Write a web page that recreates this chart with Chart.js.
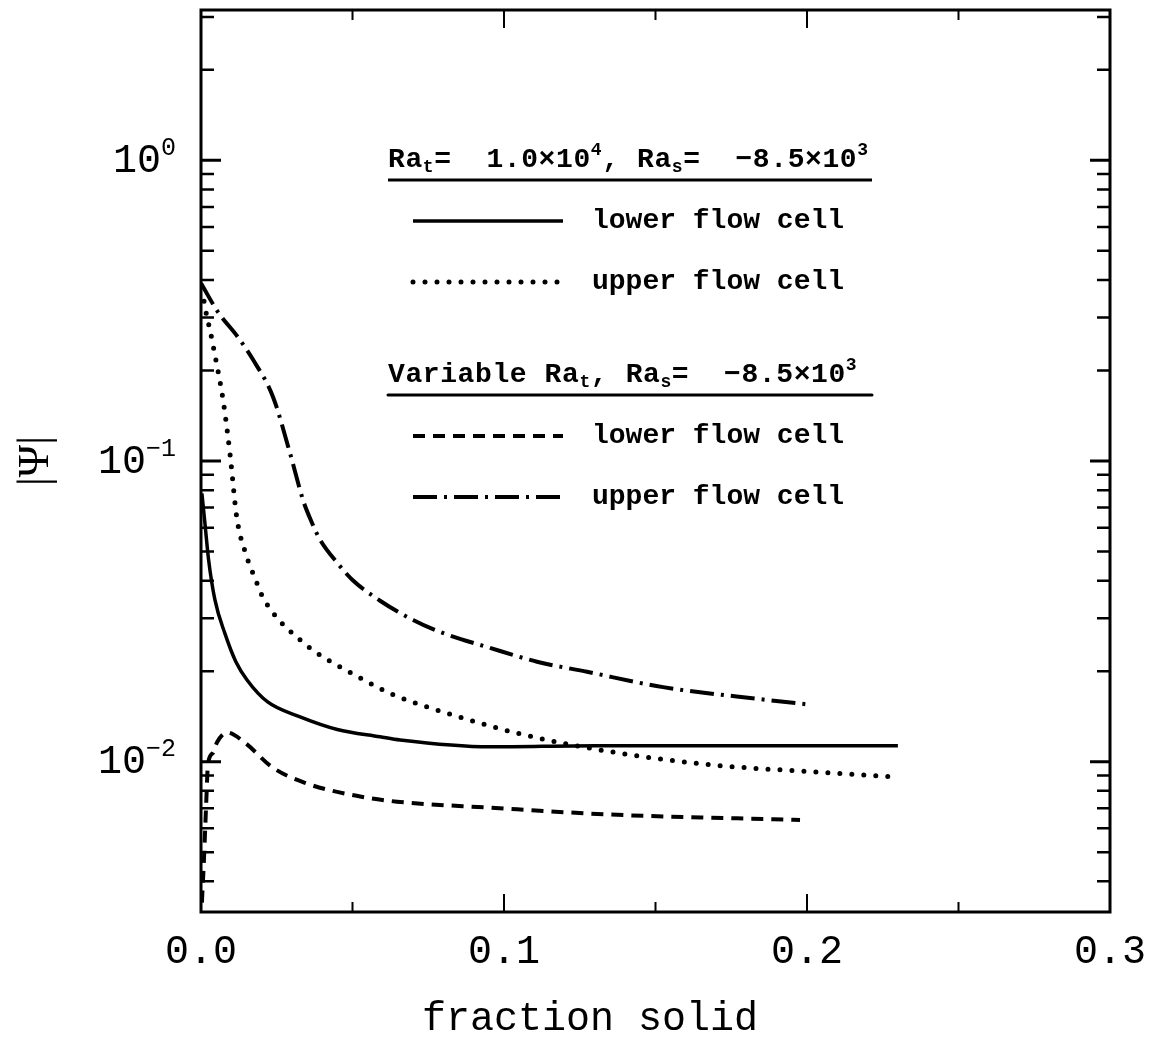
<!DOCTYPE html>
<html>
<head>
<meta charset="utf-8">
<script src="https://cdn.jsdelivr.net/npm/chart.js@4.4.1/dist/chart.umd.min.js"></script>
<style>
  html, body { margin: 0; padding: 0; background: #fff; }
</style>
</head>
<body>
<canvas id="psiChart" width="1149" height="1046"></canvas>
<script>
// Ra_t = 1.0e4, Ra_s = -8.5e3 : lower flow cell
const lowerFixedX = [0.0003, 0.0013, 0.0025, 0.0046, 0.008, 0.0115, 0.0152, 0.022, 0.0327, 0.045, 0.0591, 0.0657, 0.0954, 0.13, 0.17, 0.2, 0.23];
const lowerFixedY = [0.078, 0.062, 0.047, 0.0345, 0.0265, 0.0215, 0.0187, 0.0158, 0.0141, 0.0128, 0.0121, 0.0118, 0.0112, 0.0113, 0.0113, 0.0113, 0.0113];

// Ra_t = 1.0e4, Ra_s = -8.5e3 : upper flow cell
const upperFixedX = [0.001, 0.002, 0.003, 0.0046, 0.0063, 0.0076, 0.0096, 0.0118, 0.0149, 0.0178, 0.0205, 0.0327, 0.0525, 0.0634, 0.0832, 0.1063, 0.135, 0.168, 0.2066, 0.228];
const upperFixedY = [0.34, 0.3, 0.272, 0.225, 0.183, 0.152, 0.105, 0.065, 0.0487, 0.0408, 0.0351, 0.0254, 0.019, 0.0167, 0.0143, 0.0123, 0.0108, 0.00977, 0.00919, 0.0089];

// variable Ra_t, Ra_s = -8.5e3 : lower flow cell
const lowerVarX = [0.0003, 0.001, 0.0017, 0.0023, 0.004, 0.0053, 0.0086, 0.0145, 0.0234, 0.0343, 0.0525, 0.0647, 0.0954, 0.135, 0.1977];
const lowerVarY = [0.0034, 0.0048, 0.0072, 0.0098, 0.0107, 0.0116, 0.0125, 0.01156, 0.0096, 0.0085, 0.00766, 0.00736, 0.00703, 0.00667, 0.0064];

// variable Ra_t, Ra_s = -8.5e3 : upper flow cell
const upperVarX = [0, 0.0056, 0.0122, 0.0172, 0.0238, 0.0294, 0.0337, 0.0365, 0.0393, 0.045, 0.05, 0.0591, 0.07, 0.0789, 0.0954, 0.1109, 0.1274, 0.1525, 0.1855, 0.2003];
const upperVarY = [0.39, 0.313, 0.258, 0.217, 0.163, 0.106, 0.074, 0.0627, 0.0547, 0.0458, 0.0402, 0.0343, 0.0296, 0.027, 0.0239, 0.0215, 0.0199, 0.0177, 0.0161, 0.0155];

const xMin = 0, xMax = 0.3, xStep = 0.05;
const yMin = Math.pow(10, -2.5), yMax = Math.pow(10, 0.5);
const yLabelValues = [1, 0.1, 0.01];
const yLabelExps = ['0', '\u22121', '\u22122'];

const headerFixed = [{t: 'Ra'}, {t: 't', sub: true}, {t: '=  1.0\u00d710'}, {t: '4', sup: true},
                     {t: ', Ra'}, {t: 's', sub: true}, {t: '=  \u22128.5\u00d710'}, {t: '3', sup: true}];
const headerVar = [{t: 'Variable Ra'}, {t: 't', sub: true}, {t: ', Ra'}, {t: 's', sub: true},
                   {t: '=  \u22128.5\u00d710'}, {t: '3', sup: true}];
const xTitle = 'fraction solid';

const MONO = '"Liberation Mono", "DejaVu Sans Mono", monospace';

function pairs(xs, ys) {
    return xs.map((x, i) => ({x: x, y: ys[i]}));
}

function lineSet(label, xs, ys, width, dash, cap) {
    return {
        label: label,
        data: pairs(xs, ys),
        borderColor: '#000',
        backgroundColor: '#000',
        borderWidth: width,
        borderDash: dash,
        borderCapStyle: cap,
        cubicInterpolationMode: 'monotone',
        pointRadius: 0,
        fill: false
    };
}

// box round the plot, inward ticks on all four sides, y labels as 10^n
const frameAndTicks = {
    id: 'frameAndTicks',
    afterDatasetsDraw(chart) {
        const {ctx, chartArea: a, scales: {x, y}} = chart;
        ctx.save();
        ctx.strokeStyle = '#000';
        ctx.lineCap = 'butt';
        ctx.setLineDash([]);

        ctx.lineWidth = 2;
        x.ticks.forEach(t => {
            const px = x.getPixelForValue(t.value);
            const major = Math.abs(t.value * 10 - Math.round(t.value * 10)) < 1e-6;
            const len = major ? 18 : 10;
            ctx.beginPath();
            ctx.moveTo(px, a.bottom); ctx.lineTo(px, a.bottom - len);
            ctx.moveTo(px, a.top); ctx.lineTo(px, a.top + len);
            ctx.stroke();
        });

        for (let d = -3; d <= 0; d++) {
            for (let m = 1; m <= 9; m++) {
                const v = m * Math.pow(10, d);
                if (v < yMin || v > yMax) continue;
                const py = y.getPixelForValue(v);
                const len = m === 1 ? 20 : 13;
                ctx.lineWidth = m === 1 ? 3 : 2.5;
                ctx.beginPath();
                ctx.moveTo(a.left, py); ctx.lineTo(a.left + len, py);
                ctx.moveTo(a.right, py); ctx.lineTo(a.right - len, py);
                ctx.stroke();
            }
        }

        ctx.lineWidth = 3;
        ctx.strokeRect(a.left, a.top, a.right - a.left, a.bottom - a.top);

        ctx.fillStyle = '#000';
        ctx.textBaseline = 'middle';
        ctx.textAlign = 'left';
        yLabelValues.forEach((v, i) => {
            const py = y.getPixelForValue(v);
            ctx.font = '25px ' + MONO;
            const supW = ctx.measureText(yLabelExps[i]).width;
            ctx.font = '40px ' + MONO;
            const baseW = ctx.measureText('10').width;
            const right = a.left - 25;
            ctx.fillText('10', right - supW - baseW, py + 1);
            ctx.font = '25px ' + MONO;
            ctx.fillText(yLabelExps[i], right - supW, py - 12);
        });

        // axis title under the x labels, set a little left of centre
        ctx.textAlign = 'center';
        ctx.font = '40px ' + MONO;
        ctx.fillText(xTitle, a.left + 389, a.bottom + 107);
        ctx.restore();
    }
};

function drawRich(ctx, parts, x, y) {
    parts.forEach(p => {
        ctx.font = (p.sub || p.sup) ? 'bold 18px ' + MONO : 'bold 28px ' + MONO;
        const dy = p.sub ? 7 : (p.sup ? -10 : 0);
        ctx.fillText(p.t, x, y + dy);
        x += ctx.measureText(p.t).width;
    });
    return x;
}

// key with two underlined group headers and one sample per curve
const keyBox = {
    id: 'keyBox',
    afterDraw(chart) {
        const {ctx, chartArea: a} = chart;
        const sets = chart.data.datasets;
        const hx = a.left + 187, hx1 = a.left + 671;
        const lx0 = a.left + 212, lx1 = a.left + 362;
        const tx = a.left + 391;
        const groups = [
            {parts: headerFixed, top: a.top + 150, rows: [0, 1]},
            {parts: headerVar, top: a.top + 365, rows: [2, 3]}
        ];
        ctx.save();
        ctx.fillStyle = '#000';
        ctx.strokeStyle = '#000';
        ctx.textBaseline = 'middle';
        ctx.textAlign = 'left';
        groups.forEach(g => {
            ctx.letterSpacing = '0.6px';
            drawRich(ctx, g.parts, hx, g.top);
            ctx.letterSpacing = '0px';
            ctx.setLineDash([]);
            ctx.lineWidth = 3;
            ctx.beginPath();
            ctx.moveTo(hx, g.top + 20); ctx.lineTo(hx1, g.top + 20);
            ctx.stroke();
            g.rows.forEach((idx, r) => {
                const ds = sets[idx];
                const ry = g.top + 61 + r * 61;
                ctx.lineWidth = ds.borderWidth;
                ctx.setLineDash(ds.borderDash || []);
                ctx.lineCap = ds.borderCapStyle || 'butt';
                ctx.beginPath();
                ctx.moveTo(lx0, ry); ctx.lineTo(lx1, ry);
                ctx.stroke();
                ctx.font = 'bold 28px ' + MONO;
                ctx.fillText(ds.label, tx, ry);
            });
        });
        ctx.restore();
    }
};

new Chart(document.getElementById('psiChart'), {
    type: 'line',
    data: {
        datasets: [
            lineSet('lower flow cell', lowerFixedX, lowerFixedY, 3.5, [], 'butt'),
            lineSet('upper flow cell', upperFixedX, upperFixedY, 5, [0, 12], 'round'),
            lineSet('lower flow cell', lowerVarX, lowerVarY, 4, [12, 8], 'butt'),
            lineSet('upper flow cell', upperVarX, upperVarY, 4, [24, 7, 3, 7], 'butt')
        ]
    },
    options: {
        responsive: false,
        animation: false,
        devicePixelRatio: 1,
        layout: {padding: {top: 10, right: 39, left: 0, bottom: 0}},
        plugins: {legend: {display: false}, tooltip: {enabled: false}},
        scales: {
            x: {
                type: 'linear',
                min: xMin,
                max: xMax,
                grid: {display: false},
                border: {display: false},
                ticks: {
                    stepSize: xStep,
                    autoSkip: false,
                    maxRotation: 0,
                    padding: 8,
                    color: '#000',
                    font: {family: MONO, size: 40},
                    callback: v => Math.abs(v * 10 - Math.round(v * 10)) < 1e-6 ? v.toFixed(1) : ''
                },
                title: {display: false},
                afterFit(scale) {
                    scale.height = 134;
                    scale.paddingLeft = 0;
                    scale.paddingRight = 0;
                }
            },
            y: {
                type: 'logarithmic',
                min: yMin,
                max: yMax,
                grid: {display: false},
                border: {display: false},
                ticks: {display: false},
                title: {
                    display: true,
                    text: '|\u03a8|',
                    color: '#000',
                    font: {family: '"Liberation Serif", "DejaVu Serif", serif', size: 44},
                    padding: {top: 10, bottom: 0}
                },
                afterFit(scale) {
                    scale.width = 201;
                    scale.paddingTop = 0;
                    scale.paddingBottom = 0;
                }
            }
        }
    },
    plugins: [frameAndTicks, keyBox]
});
</script>
</body>
</html>
